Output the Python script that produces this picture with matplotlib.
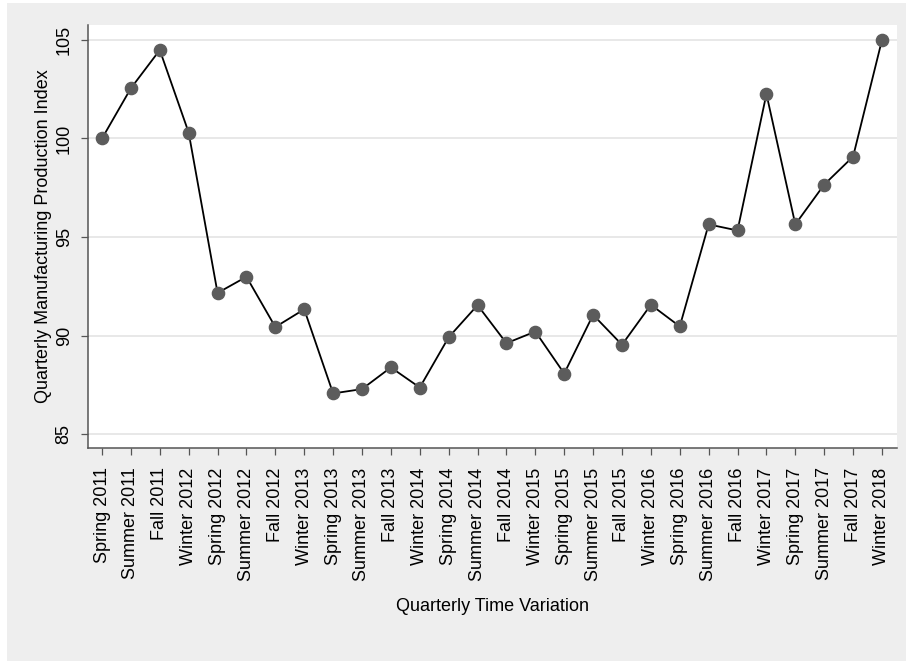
import matplotlib
matplotlib.use("Agg")
import matplotlib.pyplot as plt
from matplotlib.patches import Rectangle

# quarters on the x axis
quarters = ["Spring 2011", "Summer 2011", "Fall 2011", "Winter 2012",
            "Spring 2012", "Summer 2012", "Fall 2012", "Winter 2013",
            "Spring 2013", "Summer 2013", "Fall 2013", "Winter 2014",
            "Spring 2014", "Summer 2014", "Fall 2014", "Winter 2015",
            "Spring 2015", "Summer 2015", "Fall 2015", "Winter 2016",
            "Spring 2016", "Summer 2016", "Fall 2016", "Winter 2017",
            "Spring 2017", "Summer 2017", "Fall 2017", "Winter 2018"]

# index values
index_vals = [100.0, 102.55, 104.49, 100.3, 92.16, 92.98, 90.43, 91.33,
              87.06, 87.28, 88.38, 87.36, 89.91, 91.54, 89.61, 90.2,
              88.07, 91.05, 89.53, 91.56, 90.46, 95.64, 95.33, 102.26,
              95.64, 97.66, 99.08, 105.0]

y_ticks = [85, 90, 95, 100, 105]

plt.rcParams['font.family'] = ['Liberation Sans', 'DejaVu Sans']

fig = plt.figure(figsize=(9.06, 6.62), dpi=100)
fig.patch.set_facecolor("white")
# grey graph region (Stata style), drawn under the axes
fig.patches.append(Rectangle((7 / 906, 0.0015), 1 - 7 / 906, 1 - 0.0015 - 3 / 662,
                             transform=fig.transFigure, facecolor="#eeeeee",
                             edgecolor="none", zorder=-5))

ax = fig.add_axes([88 / 906, 1 - 448 / 662, (897 - 88) / 906, (448 - 25) / 662])
ax.set_facecolor("white")

x = list(range(len(quarters)))
ax.plot(x, index_vals, color="black", linewidth=1.3, zorder=3)
ax.plot(x, index_vals, linestyle="none", marker="o", markersize=8.8,
        markerfacecolor="#5c5c5c", markeredgecolor="#5c5c5c", zorder=4)

ax.set_xlim(-0.485, 27.52)
ax.set_ylim(84.29, 105.76)
ax.set_yticks(y_ticks)
ax.set_yticklabels([str(t) for t in y_ticks], rotation=90, va="center")
ax.set_xticks(x)
ax.set_xticklabels(quarters, rotation=90)

ax.grid(axis="y", color="#e8e8e8", linewidth=1.4)
ax.set_axisbelow(True)
for side in ["top", "right"]:
    ax.spines[side].set_visible(False)
for side in ["left", "bottom"]:
    ax.spines[side].set_color("#555555")
    ax.spines[side].set_linewidth(1.1)

ax.tick_params(axis="both", direction="out", length=5, width=0.9, color="#555555",
               labelsize=13, labelcolor="black")
ax.tick_params(axis="x", pad=9)
ax.tick_params(axis="y", pad=6)

ax.set_ylabel("Quarterly Manufacturing Production Index", fontsize=13)
ax.yaxis.set_label_coords(-36 / 809, 0.5)
ax.set_xlabel("Quarterly Time Variation", fontsize=13)
ax.xaxis.set_label_coords(0.5, -(598 - 448) / 423)

fig.savefig("out.png", dpi=100, facecolor=fig.get_facecolor())
